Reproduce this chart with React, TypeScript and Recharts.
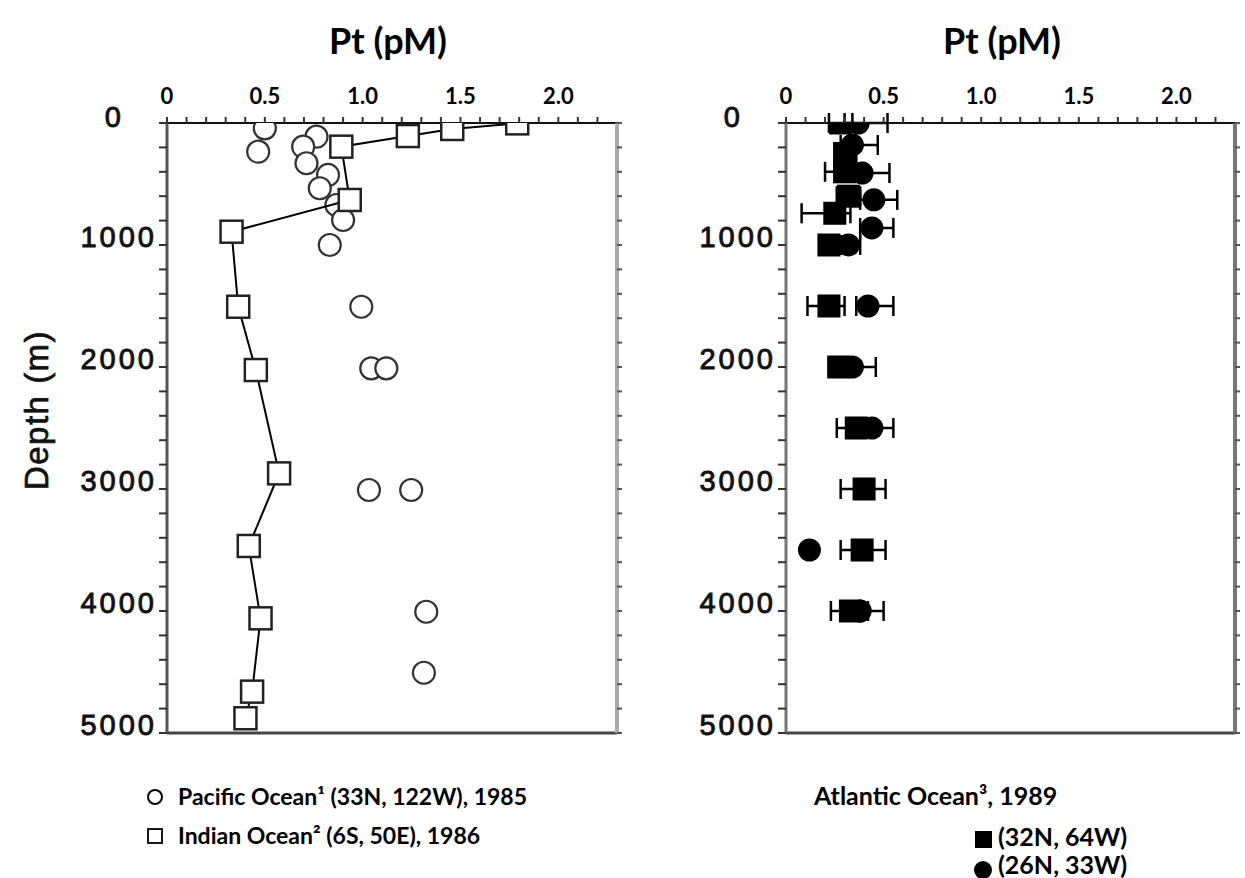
import React from "react";
import { ScatterChart, Scatter, XAxis, YAxis, ErrorBar } from "recharts";

// Pt (pM) vs depth (m)
const PACIFIC_PT = [0.5, 0.466, 0.764, 0.696, 0.713, 0.823, 0.781, 0.866, 0.9, 0.832, 0.993, 1.044, 1.121, 1.032, 1.248, 1.325, 1.313];
const PACIFIC_DEPTH = [44, 235, 112, 194, 330, 426, 535, 672, 795, 1000, 1506, 2011, 2011, 3008, 3008, 4006, 4506];

const INDIAN_PT = [1.79, 1.458, 1.231, 0.891, 0.934, 0.33, 0.364, 0.454, 0.573, 0.418, 0.478, 0.435, 0.401];
const INDIAN_DEPTH = [3, 49, 107, 194, 631, 891, 1506, 2025, 2872, 3467, 4060, 4661, 4879];

// Atlantic (32N, 64W), filled squares, with low/high of the error bar
const ATL_SQ_DEPTH = [0, 250, 400, 600, 740, 1000, 1500, 2000, 2500, 3000, 3500, 4000];
const ATL_SQ_PT = [0.28, 0.3, 0.3, 0.32, 0.25, 0.22, 0.22, 0.27, 0.36, 0.4, 0.39, 0.33];
const ATL_SQ_LO = [0.22, 0.25, 0.2, 0.26, 0.08, 0.17, 0.11, 0.22, 0.26, 0.28, 0.28, 0.23];
const ATL_SQ_HI = [0.34, 0.36, 0.4, 0.38, 0.33, 0.28, 0.3, 0.32, 0.42, 0.51, 0.51, 0.42];

// Atlantic (26N, 33W), filled circles
const ATL_CI_DEPTH = [0, 180, 410, 630, 860, 1000, 1500, 2000, 2500, 3500, 4000];
const ATL_CI_PT = [0.37, 0.34, 0.39, 0.45, 0.44, 0.32, 0.42, 0.34, 0.44, 0.12, 0.38];
const ATL_CI_LO = [0.3, 0.28, 0.32, 0.38, 0.38, 0.26, 0.36, 0.28, 0.38, 0.12, 0.32];
const ATL_CI_HI = [0.52, 0.47, 0.53, 0.57, 0.55, 0.38, 0.55, 0.46, 0.55, 0.12, 0.5];

const PT_LABELS = [0, 0.5, 1.0, 1.5, 2.0];
const PT_TICKS = [0, 0.1, 0.2, 0.3, 0.4, 0.5, 0.6, 0.7, 0.8, 0.9, 1.0, 1.1, 1.2, 1.3, 1.4, 1.5, 1.6, 1.7, 1.8, 1.9, 2.0, 2.1, 2.2];
const DEPTH_LABELS = [0, 1000, 2000, 3000, 4000, 5000];
const DEPTH_TICKS = [0, 200, 400, 600, 800, 1000, 1200, 1400, 1600, 1800, 2000, 2200, 2400, 2600, 2800, 3000, 3200, 3400, 3600, 3800, 4000, 4200, 4400, 4600, 4800, 5000];

const pacific = PACIFIC_PT.map((pt, i) => ({ pt, depth: PACIFIC_DEPTH[i] }));
const indian = INDIAN_PT.map((pt, i) => ({ pt, depth: INDIAN_DEPTH[i] }));
const atlSq = ATL_SQ_PT.map((pt, i) => ({ pt, depth: ATL_SQ_DEPTH[i], err: [pt - ATL_SQ_LO[i], ATL_SQ_HI[i] - pt] }));
const atlCi = ATL_CI_PT.map((pt, i) => ({ pt, depth: ATL_CI_DEPTH[i], err: [pt - ATL_CI_LO[i], ATL_CI_HI[i] - pt] }));

const LABEL_FONT = "Lato, 'Open Sans', sans-serif";
const AXIS_FONT = "'Liberation Sans', Arial, sans-serif";
const PT_DOMAIN = [0, 2.3];

const PtTick = ({ x, y, payload }: any) => {
  const v = payload.value;
  if (!PT_LABELS.some((l) => Math.abs(l - v) < 1e-6)) return <g />;
  return (
    <text x={x} y={y - 13} textAnchor="middle" fontFamily={LABEL_FONT} fontWeight={700} fontSize={22} fill="#000">
      {v === 0 ? "0" : v.toFixed(1)}
    </text>
  );
};

const DepthTick = ({ x, y, payload }: any) => {
  const v = payload.value;
  if (!DEPTH_LABELS.includes(v)) return <g />;
  return (
    <text
      x={v === 0 ? x - 33 : x}
      y={y + (v === 0 ? 4 : 2)}
      textAnchor="end"
      fontFamily={AXIS_FONT}
      fontSize={29}
      letterSpacing={3}
      fill="#111"
      stroke="#111"
      strokeWidth={0.9}
    >
      {v}
    </text>
  );
};

const blank = () => "";

function Axes(rightColor: string, leftColor: string) {
  return [
    <XAxis
      key="top"
      xAxisId={0}
      type="number"
      dataKey="pt"
      orientation="top"
      domain={PT_DOMAIN}
      ticks={PT_TICKS}
      interval={0}
      height={30}
      tickSize={6}
      tickMargin={0}
      tick={<PtTick />}
      axisLine={{ stroke: "#111", strokeWidth: 2 }}
      tickLine={{ stroke: "#333", strokeWidth: 2 }}
      allowDataOverflow
    />,
    <XAxis
      key="bottom"
      xAxisId="b"
      type="number"
      orientation="bottom"
      domain={PT_DOMAIN}
      ticks={PT_TICKS}
      interval={0}
      height={10}
      tickSize={6}
      tickFormatter={blank}
      axisLine={{ stroke: "#444", strokeWidth: 3 }}
      tickLine={{ stroke: "#555", strokeWidth: 2 }}
      allowDataOverflow
    />,
    <YAxis
      key="left"
      yAxisId={0}
      type="number"
      dataKey="depth"
      domain={[0, 5000]}
      reversed
      ticks={DEPTH_TICKS}
      interval={0}
      width={60}
      tickSize={8}
      tickMargin={2}
      tick={<DepthTick />}
      axisLine={{ stroke: leftColor, strokeWidth: 3 }}
      tickLine={{ stroke: "#333", strokeWidth: 2 }}
      allowDataOverflow
    />,
    <YAxis
      key="right"
      yAxisId="r"
      type="number"
      orientation="right"
      domain={[0, 5000]}
      reversed
      ticks={DEPTH_TICKS}
      interval={0}
      width={10}
      tickSize={5}
      tickFormatter={blank}
      axisLine={{ stroke: rightColor, strokeWidth: 4 }}
      tickLine={{ stroke: "#555", strokeWidth: 2 }}
      allowDataOverflow
    />,
  ];
}

const openCircle = (p: any) => <circle cx={p.cx} cy={p.cy} r={11} fill="#fff" stroke="#333" strokeWidth={2.2} />;
const openSquare = (p: any) => (
  <rect x={p.cx - 11} y={p.cy - 11} width={22} height={22} fill="#fff" stroke="#222" strokeWidth={2.5} />
);
const filledSquare = (p: any) => <rect x={p.cx - 11.5} y={p.cy - 11.5} width={23} height={23} fill="#000" />;
const filledCircle = (p: any) => <circle cx={p.cx} cy={p.cy} r={11.5} fill="#000" />;

export default function App() {
  return (
    <div style={{ position: "absolute", left: 0, top: 0, width: 1245, height: 878, background: "#fff", overflow: "hidden" }}>
      <div style={{ position: "absolute", left: 0, top: 0 }}>
        <ScatterChart width={640} height={760} margin={{ top: 93, right: 13, bottom: 17, left: 107 }}>
          {Axes("#aaa", "#555")}
          <Scatter data={pacific} dataKey="pt" shape={openCircle} isAnimationActive={false} />
          <Scatter
            data={indian}
            dataKey="pt"
            shape={openSquare}
            line={{ stroke: "#000", strokeWidth: 2 }}
            isAnimationActive={false}
          />
        </ScatterChart>
      </div>
      <div style={{ position: "absolute", left: 640, top: 0 }}>
        <ScatterChart width={605} height={760} margin={{ top: 93, right: 0, bottom: 17, left: 86 }}>
          {Axes("#777", "#777")}
          <Scatter data={atlSq} dataKey="pt" shape={filledSquare} isAnimationActive={false}>
            <ErrorBar dataKey="err" direction="x" width={10} stroke="#000" strokeWidth={2.5} />
          </Scatter>
          <Scatter data={atlCi} dataKey="pt" shape={filledCircle} isAnimationActive={false}>
            <ErrorBar dataKey="err" direction="x" width={10} stroke="#000" strokeWidth={2.5} />
          </Scatter>
        </ScatterChart>
      </div>
      <svg width={1245} height={878} style={{ position: "absolute", left: 0, top: 0, pointerEvents: "none" }}>
        <g fontFamily={LABEL_FONT} fontWeight={700} fill="#000">
          <text x={388} y={54} fontSize={36} textAnchor="middle">Pt (pM)</text>
          <text x={1002} y={54} fontSize={36} textAnchor="middle">Pt (pM)</text>
        </g>
        <text
          transform="translate(48,410) rotate(-90)"
          textAnchor="middle"
          fontFamily={AXIS_FONT}
          fontSize={33}
          letterSpacing={1.5}
          fill="#111"
          stroke="#111"
          strokeWidth={0.7}
        >
          Depth (m)
        </text>
        <g fontFamily={LABEL_FONT} fontWeight={700} fontSize={23} fill="#000">
          <circle cx={155} cy={797} r={7} fill="none" stroke="#000" strokeWidth={2} />
          <text x={178} y={805}>Pacific Ocean¹ (33N, 122W), 1985</text>
          <rect x={148} y={829} width={14} height={14} fill="none" stroke="#000" strokeWidth={1.8} />
          <text x={178} y={844}>Indian Ocean² (6S, 50E), 1986</text>
        </g>
        <g fontFamily={LABEL_FONT} fontWeight={700} fontSize={25} fill="#000">
          <text x={814} y={805}>Atlantic Ocean³, 1989</text>
          <rect x={975} y={831} width={17} height={17} fill="#000" />
          <text x={998} y={846}>(32N, 64W)</text>
          <circle cx={983} cy={870} r={9} fill="#000" />
          <text x={998} y={874}>(26N, 33W)</text>
        </g>
      </svg>
    </div>
  );
}
